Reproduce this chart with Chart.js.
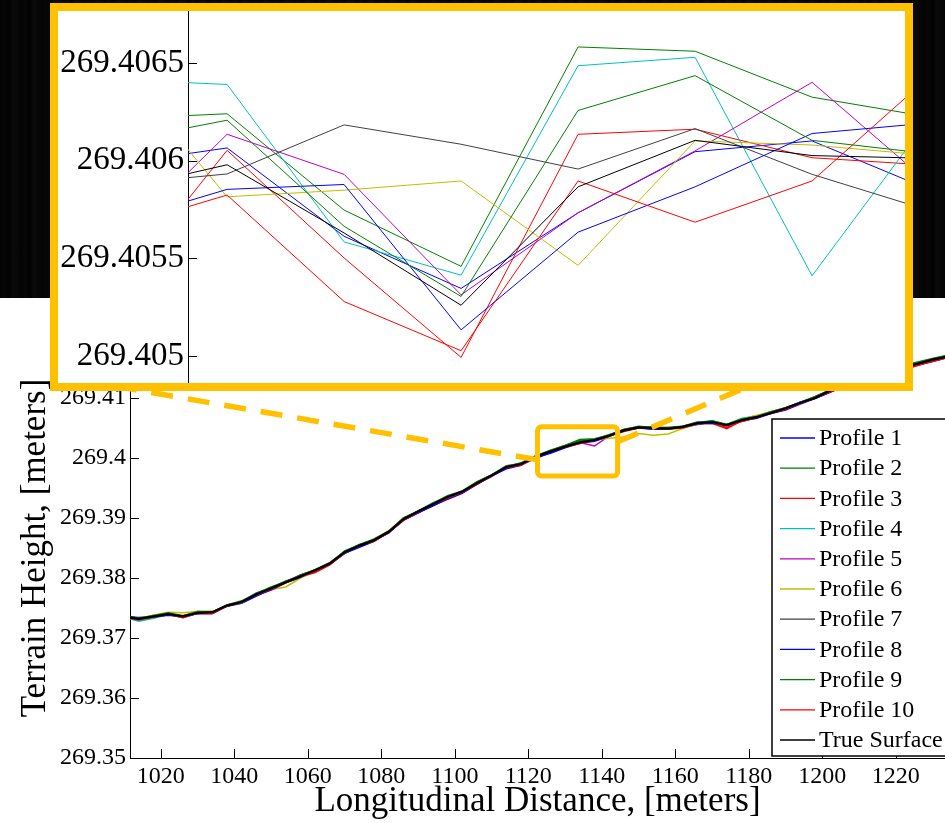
<!DOCTYPE html>
<html lang="en">
<head>
<meta charset="UTF-8">
<title>Terrain Height Profiles</title>
<script src="https://cdn.jsdelivr.net/npm/chart.js"></script>
<style>
  html, body { margin: 0; padding: 0; background: #fff; }
  body { width: 945px; height: 823px; position: relative; overflow: hidden; }
  #backdrop {
    position: absolute; left: 0; top: 0; width: 945px; height: 298px;
    background: repeating-linear-gradient(90deg, #030303 0px, #070707 4px, #020202 9px, #0a0a0a 13px, #040404 21px);
  }
  #mainChart { position: absolute; left: 0; top: 0; }
  #inset {
    position: absolute; left: 50px; top: 3px; width: 863px; height: 388px;
    box-sizing: border-box; border: 8px solid #FFC000; background: #fff;
  }
  #insetChart { display: block; }
</style>
</head>
<body>
<div id="backdrop"></div>
<canvas id="mainChart" width="945" height="823"></canvas>
<div id="inset"><canvas id="insetChart" width="847" height="372"></canvas></div>

<script>
// ---- main plot data ----
// longitudinal distance [m]
var dist = [1010, 1014, 1018, 1022, 1026, 1030, 1034, 1038, 1042, 1046,
            1050, 1054, 1058, 1062, 1066, 1070, 1074, 1078, 1082, 1086,
            1090, 1094, 1098, 1102, 1106, 1110, 1114, 1118, 1122, 1126,
            1130, 1134, 1138, 1142, 1146, 1150, 1154, 1158, 1162, 1166,
            1170, 1174, 1178, 1182, 1186, 1190, 1194, 1198, 1202, 1206,
            1210, 1214, 1218, 1222, 1226, 1230, 1234];

// true surface height [m]
var trueSurface = [269.3735, 269.3732, 269.3736, 269.3740, 269.3736, 269.3742, 269.3743, 269.3754, 269.3760, 269.3773,
                   269.3783, 269.3793, 269.3803, 269.3813, 269.3824, 269.3843, 269.3854, 269.3863, 269.3877, 269.3898,
                   269.3911, 269.3923, 269.3935, 269.3944, 269.3958, 269.3971, 269.3985, 269.3990, 269.4002, 269.4011,
                   269.4019, 269.4026, 269.4030, 269.4037, 269.4046, 269.4051, 269.4050, 269.4049, 269.4052, 269.4058,
                   269.4060, 269.4055, 269.4063, 269.4068, 269.4075, 269.4083, 269.4092, 269.4100, 269.4112, 269.4122,
                   269.4130, 269.4137, 269.4145, 269.4152, 269.4157, 269.4164, 269.4169];

// each profile's deviation from the true surface, in 0.1 mm
var dev1  = [1, 2, 0, -1, -2, -1, 0, -1, -2, -3,  -2, 0, 1, -1, 0, -2, -1, 0, -2, -1,  -2, -3, -3, -2, -1, 0, -2, -1, -3, -2,  -1, 0, -1, 0, 1, 0, -1, 0, -1, -2,  0, -1, -2, -1, 0, -2, -1, 0, -2, -1,  -2, -1, 0, -2, -1, 0, -1];
var dev2  = [1, 0, 2, 1, 0, 2, 1, 0, 1, 2,  1, 2, 0, 1, 2, 1, 2, 1, 0, 2,  1, 2, 1, 0, 2, 1, 2, 1, 1, 2,  2, 5, 2, 1, 2, 1, 2, 0, 1, 2,  1, 0, 2, 1, 2, 1, 0, 2, 1, 2,  1, 2, 1, 3, 2, 1, 2];
var dev3  = [-1, 0, -2, -1, 0, -1, -2, 0, -1, 0,  -1, 0, -2, -3, -1, 0, -2, -1, 0, -1,  0, -1, -2, 0, -1, -2, 0, -1, -2, -1,  0, -2, -1, 0, -1, 0, -2, -1, 0, -1,  -2, -6, -1, 0, -1, -2, 0, -1, -2, -1,  -3, -2, -4, -5, -3, -2, -1];
var dev4  = [0, -4, -3, -1, -2, 0, -1, 0, 1, 0,  -1, 0, 1, 0, -1, -2, 0, 1, 0, -1,  0, 1, 0, -1, 1, 0, -1, 0, 1, 0,  1, 0, 1, 2, 1, 0, 1, 2, 0, 1,  2, 1, 3, 2, 1, 0, 1, 0, 1, 2,  1, 0, 1, 2, 1, 0, 1];
var dev5  = [1, 0, -1, 0, 1, 0, -1, 1, 0, 1,  0, 1, 2, 0, 1, 0, -1, 0, 1, 0,  -1, 0, 1, 0, -1, 0, 1, 0, -1, 0,  1, 0, -10, 0, 1, 0, -1, 0, 1, 0,  -1, 0, 1, 0, -1, 0, 1, 0, -1, 0,  1, 0, -1, 0, 1, 0, -1];
var dev6  = [0, 1, 2, 3, 6, 2, 1, 0, -1, 0,  -2, -8, -3, -2, -1, 0, -1, 1, 2, 0,  -1, 0, 1, 0, -1, 0, 1, 0, 0, 1,  0, -1, 0, -4, -11, -10, -12, -9, -3, -1,  0, 1, 2, 3, 2, 1, 0, -1, 0, 1,  0, -1, 1, 0, -1, 0, 1];
var dev7  = [0, 1, 0, 1, 0, -1, 0, 1, 0, 1,  0, 1, 0, -1, 0, 1, 0, 1, 0, 0,  1, 0, -1, 0, 1, 0, 1, 0, -1, 0,  1, 0, 0, 1, 0, -1, 0, 1, 0, 1,  0, 1, 0, -1, 0, 1, 0, 1, 0, -1,  0, 1, 0, 1, 0, -1, 0];
var dev8  = [2, 1, -1, -2, 0, -1, -2, -1, 0, -2,  -3, -1, -2, 0, -1, -2, -3, -2, -1, -2,  -3, -2, -4, -3, -2, -1, -3, -2, -1, -3,  -2, -1, -2, -1, 0, -1, -2, -1, 0, -1,  -2, -1, 0, -2, -1, -3, -2, -1, -3, -2,  -1, -3, -2, -1, -2, -3, -2];
var dev9  = [2, 1, 1, 2, 1, 2, 0, 1, 2, 1,  2, 1, 2, 1, 0, 2, 1, 2, 1, 2,  0, 1, 2, 1, 2, 1, 0, 2, 2, 1,  2, 3, 1, 2, 1, 2, 1, 2, 1, 0,  2, 1, 2, 1, 2, 0, 1, 2, 1, 2,  0, 2, 1, 2, 3, 2, 2];
var dev10 = [-1, -2, -1, 0, -2, -1, -2, -1, 0, -1,  -2, -1, 0, -4, -2, -1, 0, -2, -1, -2,  -1, 0, -2, -1, -2, 0, -1, -2, -1, 0,  -1, -2, 0, -1, -2, -1, 0, -1, -2, -1,  0, -4, -2, -1, 0, -2, -1, 0, -2, -3,  -2, -3, -5, -4, -2, -3, -2];

// ---- zoomed inset data ----
var insetDist = [1121.5, 1125, 1128.5, 1132, 1135.5, 1139, 1142.5, 1146];
var insetP1  = [269.405979, 269.406065, 269.405613, 269.405346, 269.405733, 269.406046, 269.406101, 269.405853];
var insetP2  = [269.406213, 269.406240, 269.405747, 269.405459, 269.406582, 269.406560, 269.406325, 269.406224];
var insetP3  = [269.405302, 269.406053, 269.405502, 269.404993, 269.406135, 269.406161, 269.406015, 269.405977];
var insetP4  = [269.406417, 269.406390, 269.405584, 269.405414, 269.406486, 269.406529, 269.405411, 269.406215];
var insetP5  = [269.405548, 269.406135, 269.405930, 269.405313, 269.405733, 269.406050, 269.406401, 269.405884];
var insetP6  = [269.406539, 269.405815, 269.405849, 269.405896, 269.405464, 269.406101, 269.406080, 269.406027];
var insetP7  = [269.405875, 269.405932, 269.406183, 269.406084, 269.405957, 269.406164, 269.405930, 269.405745];
var insetP8  = [269.405674, 269.405853, 269.405878, 269.405134, 269.405634, 269.405866, 269.406139, 269.406193];
var insetP9  = [269.406091, 269.406207, 269.405664, 269.405305, 269.406257, 269.406435, 269.406104, 269.406036];
var insetP10 = [269.405645, 269.405824, 269.405279, 269.405027, 269.405896, 269.405685, 269.405896, 269.406429];
var insetTrue = [269.405842, 269.405979, 269.405630, 269.405260, 269.405866, 269.406104, 269.406026, 269.406012];

// ---- labels, ticks, colours ----
var seriesLabels = ['Profile 1', 'Profile 2', 'Profile 3', 'Profile 4', 'Profile 5', 'Profile 6',
                    'Profile 7', 'Profile 8', 'Profile 9', 'Profile 10', 'True Surface'];
var seriesColors = ['#0000FF', '#008000', '#FF0000', '#00BFBF', '#BF00BF', '#BFBF00',
                    '#404040', '#0000FF', '#008000', '#FF0000', '#000000'];
var xTicks = [1020, 1040, 1060, 1080, 1100, 1120, 1140, 1160, 1180, 1200, 1220];
var yTicks = [269.35, 269.36, 269.37, 269.38, 269.39, 269.4, 269.41];
var insetYTicks = [269.405, 269.4055, 269.406, 269.4065];

// zoom window on the main plot and the two connector lines (data coords)
var zoomBoxX = [1122.5, 1144.3];
var zoomBoxY = [269.3970, 269.4052];
var linkLeft = [[1122.5, 269.3997], [990.4, 269.4138]];
var linkRight = [[1144.3, 269.4027], [1223.6, 269.4233]];

Chart.defaults.font.family = '"Liberation Serif", "Times New Roman", serif';
Chart.defaults.color = '#000';

// MATLAB style ticks pointing into the plot
var inwardTicks = {
    id: 'inwardTicks',
    afterDatasetsDraw: function (chart, args, opts) {
        var ctx = chart.ctx, area = chart.chartArea;
        ctx.save();
        ctx.strokeStyle = '#000';
        ctx.lineWidth = 1;
        Object.values(chart.scales).forEach(function (s) {
            if (!s.options.display) return;
            s.ticks.forEach(function (t) {
                var p = Math.round(s.getPixelForValue(t.value)) + 0.5;
                ctx.beginPath();
                if (s.isHorizontal()) {
                    ctx.moveTo(p, area.bottom);
                    ctx.lineTo(p, area.bottom - opts.length);
                } else {
                    ctx.moveTo(area.left, p);
                    ctx.lineTo(area.left + opts.length, p);
                }
                ctx.stroke();
            });
        });
        ctx.restore();
    }
};

// orange zoom rectangle + dashed connectors
var zoomMarks = {
    id: 'zoomMarks',
    afterDatasetsDraw: function (chart) {
        var ctx = chart.ctx, xs = chart.scales.x, ys = chart.scales.y;
        ctx.save();
        ctx.strokeStyle = '#FFC000';
        ctx.lineWidth = 5.5;
        ctx.setLineDash([22, 15]);
        [linkLeft, linkRight].forEach(function (l) {
            ctx.beginPath();
            ctx.moveTo(xs.getPixelForValue(l[0][0]), ys.getPixelForValue(l[0][1]));
            ctx.lineTo(xs.getPixelForValue(l[1][0]), ys.getPixelForValue(l[1][1]));
            ctx.stroke();
        });
        ctx.setLineDash([]);
        ctx.lineWidth = 5;
        var x1 = xs.getPixelForValue(zoomBoxX[0]), x2 = xs.getPixelForValue(zoomBoxX[1]);
        var y1 = ys.getPixelForValue(zoomBoxY[1]), y2 = ys.getPixelForValue(zoomBoxY[0]);
        ctx.beginPath();
        ctx.roundRect(x1, y1, x2 - x1, y2 - y1, 4);
        ctx.stroke();
        ctx.restore();
    }
};

// boxed legend in the lower right corner
var boxLegend = {
    id: 'boxLegend',
    afterDraw: function (chart, args, o) {
        var ctx = chart.ctx, a = chart.chartArea;
        var left = a.right - o.fromRight, top = a.top + o.fromTop;
        ctx.save();
        ctx.fillStyle = '#fff';
        ctx.fillRect(left, top, 200, o.height);
        ctx.strokeStyle = '#000';
        ctx.lineWidth = 1.5;
        ctx.strokeRect(left, top, 200, o.height);
        ctx.font = '24px "Liberation Serif"';
        ctx.textBaseline = 'middle';
        chart.data.datasets.forEach(function (ds, i) {
            var y = top + o.firstRow + i * o.rowStep;
            ctx.strokeStyle = ds.borderColor;
            ctx.lineWidth = 1.3;
            ctx.beginPath();
            ctx.moveTo(left + 8, y);
            ctx.lineTo(left + 43, y);
            ctx.stroke();
            ctx.fillStyle = '#000';
            ctx.fillText(ds.label, left + 47, y + 1);
        });
        ctx.restore();
    }
};

function lineSet(label, color, points, width, order) {
    return {
        label: label, data: points, borderColor: color, borderWidth: width,
        pointRadius: 0, tension: 0, fill: false, order: order
    };
}

// keep chart area edges where the layout padding puts them
function noEdgePadding(s) {
    s.paddingTop = 0;
    s.paddingBottom = 0;
}

var profileDevs = [dev1, dev2, dev3, dev4, dev5, dev6, dev7, dev8, dev9, dev10];
var mainSets = profileDevs.map(function (dev, k) {
    var pts = dist.map(function (d, i) { return { x: d, y: trueSurface[i] + dev[i] * 0.0001 }; });
    return lineSet(seriesLabels[k], seriesColors[k], pts, 1.5, 20 - k);
});
mainSets.push(lineSet(seriesLabels[10], seriesColors[10],
    dist.map(function (d, i) { return { x: d, y: trueSurface[i] }; }), 2.2, 0));

new Chart(document.getElementById('mainChart'), {
    type: 'line',
    data: { datasets: mainSets },
    options: {
        responsive: false,
        animation: false,
        layout: { padding: { top: 338, left: 0, right: 0, bottom: 0 } },
        plugins: {
            legend: { display: false },
            tooltip: { enabled: false },
            inwardTicks: { length: 9 },
            boxLegend: { fromRight: 173, fromTop: 81, height: 337, firstRow: 19, rowStep: 30.2 }
        },
        scales: {
            x: {
                type: 'linear', min: 1011.6, max: 1233.4,
                grid: { display: false, drawTicks: false },
                border: { color: '#000', width: 1 },
                afterBuildTicks: function (s) { s.ticks = xTicks.map(function (v) { return { value: v }; }); },
                afterFit: function (s) { s.height = 65; },
                ticks: { font: { size: 24 }, padding: 4, maxRotation: 0, autoSkip: false,
                         callback: function (v) { return String(v); } },
                title: { display: true, text: 'Longitudinal Distance, [meters]', font: { size: 35 },
                         padding: { top: 0, bottom: 0 } }
            },
            y: {
                type: 'linear', min: 269.35, max: 269.42,
                grid: { display: false, drawTicks: false },
                border: { color: '#000', width: 1 },
                afterBuildTicks: function (s) { s.ticks = yTicks.map(function (v) { return { value: v }; }); },
                afterFit: function (s) { s.width = 130; noEdgePadding(s); },
                ticks: { font: { size: 24 }, padding: 4, callback: function (v) { return String(v); } },
                title: { display: true, text: 'Terrain Height, [meters]', font: { size: 35 },
                         padding: { top: 15, bottom: 0 } }
            }
        }
    },
    plugins: [inwardTicks, zoomMarks, boxLegend]
});

var insetSeries = [insetP1, insetP2, insetP3, insetP4, insetP5, insetP6, insetP7, insetP8, insetP9, insetP10, insetTrue];
var insetSets = insetSeries.map(function (vals, k) {
    var pts = insetDist.map(function (d, i) { return { x: d, y: vals[i] }; });
    return lineSet(seriesLabels[k], seriesColors[k], pts, 1, k === 10 ? 0 : 20 - k);
});

new Chart(document.getElementById('insetChart'), {
    type: 'line',
    data: { datasets: insetSets },
    options: {
        responsive: false,
        animation: false,
        layout: { padding: 0 },
        plugins: {
            legend: { display: false },
            tooltip: { enabled: false },
            inwardTicks: { length: 9 }
        },
        scales: {
            x: { type: 'linear', display: false, min: 1123.83, max: 1145.28 },
            y: {
                type: 'linear', min: 269.404862, max: 269.406766,
                grid: { display: false, drawTicks: false },
                border: { color: '#000', width: 1 },
                afterBuildTicks: function (s) { s.ticks = insetYTicks.map(function (v) { return { value: v }; }); },
                afterFit: function (s) { s.width = 130; noEdgePadding(s); },
                ticks: { font: { size: 33 }, padding: 4, callback: function (v) { return String(v); } }
            }
        }
    },
    plugins: [inwardTicks]
});
</script>
</body>
</html>
